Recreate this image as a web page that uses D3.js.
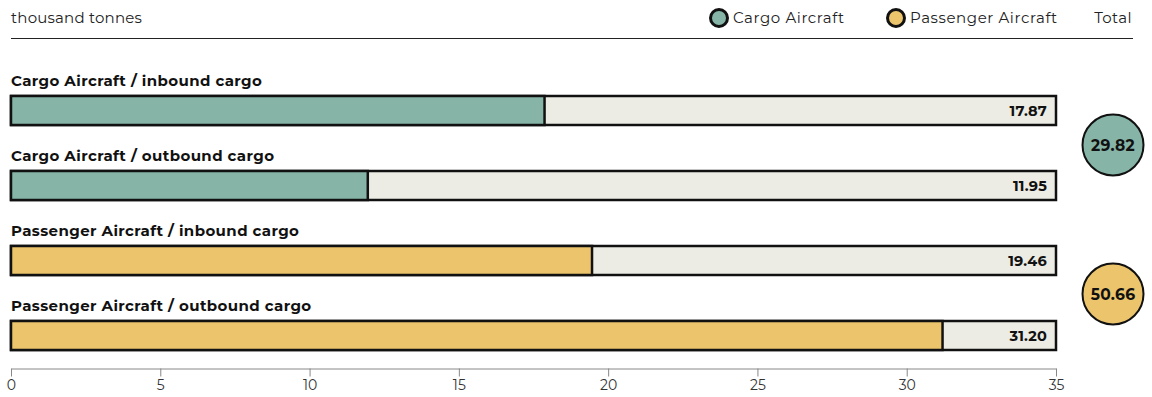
<!DOCTYPE html>
<html>
<head>
<meta charset="utf-8">
<script src="https://cdn.jsdelivr.net/npm/d3@7"></script>
<style>
  body { margin: 0; background: #fff; }
  svg { display: block; font-family: "Montserrat", "Noto Sans", "Open Sans", sans-serif; }
</style>
</head>
<body>
<svg id="chart" width="1152" height="397"></svg>
<script>
// Air cargo volumes, thousand tonnes
const categories = [
  "Cargo Aircraft / inbound cargo",
  "Cargo Aircraft / outbound cargo",
  "Passenger Aircraft / inbound cargo",
  "Passenger Aircraft / outbound cargo"
];
const groups = ["Cargo Aircraft", "Cargo Aircraft", "Passenger Aircraft", "Passenger Aircraft"];
const values = [17.87, 11.95, 19.46, 31.20];
const totalGroups = ["Cargo Aircraft", "Passenger Aircraft"];
const totals = [29.82, 50.66];
const tickValues = [0, 5, 10, 15, 20, 25, 30, 35];

const colors = { "Cargo Aircraft": "#86b5a8", "Passenger Aircraft": "#ecc46c" };
const trackColor = "#ecece4";
const ink = "#111";

const svg = d3.select("#chart");

const x = d3.scaleLinear().domain([0, 35]).range([11, 1056]);
const y = d3.scaleBand().domain(categories).range([66, 366]).paddingInner(0).paddingOuter(0);
const barTop = 30, barH = 29;

// Header
svg.append("text").attr("x", 11).attr("y", 23)
  .attr("font-size", 15).attr("letter-spacing", 0.2).attr("fill", "#222").text("thousand tonnes");
svg.append("line").attr("x1", 11).attr("x2", 1133).attr("y1", 38.5).attr("y2", 38.5)
  .attr("stroke", "#222").attr("stroke-width", 1);

const legend = [
  { name: "Cargo Aircraft", cx: 719, tx: 733 },
  { name: "Passenger Aircraft", cx: 896, tx: 910 }
];
legend.forEach(d => {
  svg.append("circle").attr("cx", d.cx).attr("cy", 18).attr("r", 8.5)
    .attr("fill", colors[d.name]).attr("stroke", ink).attr("stroke-width", 3);
  svg.append("text").attr("x", d.tx).attr("y", 23).attr("font-size", 15)
    .attr("letter-spacing", 0.6).attr("fill", "#222").text(d.name);
});
svg.append("text").attr("x", 1132).attr("y", 23).attr("text-anchor", "end")
  .attr("font-size", 15).attr("letter-spacing", 0.4).attr("fill", "#222").text("Total");

// Rows
const rows = svg.append("g").selectAll("g").data(categories).join("g")
  .attr("transform", d => `translate(0,${y(d)})`);

rows.append("text").attr("x", 11).attr("y", 20)
  .attr("font-size", 15).attr("letter-spacing", 0.4).attr("font-weight", "bold").attr("fill", ink)
  .text(d => d);

rows.append("rect")
  .attr("x", x(0)).attr("y", barTop)
  .attr("width", x(35) - x(0)).attr("height", barH)
  .attr("fill", trackColor).attr("stroke", ink).attr("stroke-width", 2.5);

rows.append("rect")
  .attr("x", x(0)).attr("y", barTop)
  .attr("width", (d, i) => x(values[i]) - x(0)).attr("height", barH)
  .attr("fill", (d, i) => colors[groups[i]]).attr("stroke", ink).attr("stroke-width", 2.5);

rows.append("text").attr("x", x(35) - 9).attr("y", barTop + barH / 2 + 5)
  .attr("text-anchor", "end").attr("font-size", 14.5).attr("letter-spacing", 0.2)
  .attr("font-weight", "bold").attr("fill", ink)
  .text((d, i) => values[i].toFixed(2));

// Totals
const totalCy = [145, 294];
totals.forEach((t, i) => {
  svg.append("circle").attr("cx", 1113).attr("cy", totalCy[i]).attr("r", 30.5)
    .attr("fill", colors[totalGroups[i]]).attr("stroke", ink).attr("stroke-width", 2);
  svg.append("text").attr("x", 1113).attr("y", totalCy[i] + 5.5).attr("text-anchor", "middle")
    .attr("font-size", 15.5).attr("letter-spacing", 0.3)
    .attr("font-weight", "bold").attr("fill", ink).text(t.toFixed(2));
});

// Axis
const axis = svg.append("g").attr("transform", "translate(0,368.5)")
  .call(d3.axisBottom(x).tickValues(tickValues).tickSize(8).tickSizeOuter(0).tickPadding(4));
axis.select(".domain").attr("stroke", "#888");
axis.selectAll(".tick line").attr("stroke", "#888");
axis.selectAll(".tick text").attr("font-size", 14).attr("fill", "#333")
  .attr("font-family", "\"Montserrat\", \"Noto Sans\", sans-serif");
</script>
</body>
</html>
